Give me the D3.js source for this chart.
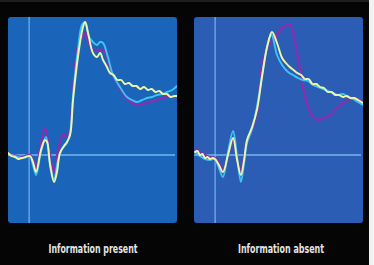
<!DOCTYPE html>
<html><head><meta charset="utf-8">
<script src="https://cdn.jsdelivr.net/npm/d3@7"></script>
<style>html,body{margin:0;padding:0;background:#050505;}svg{display:block;}</style>
</head><body>
<svg id="c" width="374" height="265"></svg>
<script>
// time in ms, amplitude in arbitrary units (0 = baseline)
const panelTitles = ["Information present", "Information absent"];
const seriesNames = ["purple", "cyan", "yellow"];

const presentPurple = [[-100,0.2],[-70,0.0],[-34,-0.2],[4,0.0],[18,-0.5],[33,-1.2],[56,1.2],[75,2.7],[99,0.0],[118,-1.8],[137,0.5],[160,2.0],[179,1.8],[194,2.5],[208,6.5],[231,10.8],[255,12.0],[265,12.2],[284,11.0],[302,10.5],[321,10.5],[345,10.5],[359,10.3],[383,8.8],[416,7.2],[440,6.3],[463,5.7],[487,5.2],[511,5.0],[535,5.1],[558,5.2],[582,5.4],[605,5.5],[630,5.7],[653,5.8],[677,5.8],[700,5.8]];
const presentCyan = [[-100,0.1],[-67,-0.1],[-34,-0.3],[4,-0.1],[18,-1.0],[33,-2.0],[56,0.3],[80,1.8],[99,-0.8],[118,-2.5],[137,-0.5],[156,0.6],[179,1.2],[194,2.2],[208,6.0],[231,10.5],[250,13.0],[265,13.3],[284,11.8],[302,11.3],[321,11.0],[336,11.3],[350,11.2],[373,9.8],[397,8.0],[430,6.8],[463,5.8],[487,5.5],[511,5.3],[535,5.5],[558,5.7],[582,5.8],[605,6.0],[630,6.1],[653,6.3],[677,6.5],[700,6.9]];
const presentYellow = [[-100,0.2],[-84,-0.1],[-67,-0.2],[-50,-0.4],[-34,-0.3],[-15,-0.2],[4,-0.1],[18,-0.7],[33,-1.7],[56,0.5],[75,1.5],[85,1.3],[99,-1.0],[118,-2.7],[132,-1.7],[146,0.2],[165,0.9],[179,1.3],[194,2.0],[208,5.5],[231,9.8],[255,12.8],[265,13.3],[279,12.2],[302,10.2],[321,9.8],[336,10.2],[350,9.5],[366,8.9],[383,8.2],[400,8.0],[418,7.5],[436,7.5],[454,7.1],[472,7.2],[490,6.9],[508,6.9],[526,6.6],[544,6.8],[562,6.5],[580,6.6],[598,6.3],[616,6.4],[634,6.1],[652,6.1],[670,5.8],[688,5.9],[700,5.9]];

const absentPurple = [[-95,0.6],[-72,0.3],[-48,0.0],[-24,-0.2],[-1,-0.3],[18,-0.8],[37,-1.5],[61,0.0],[85,1.5],[104,-0.3],[122,-1.6],[137,-0.3],[151,1.3],[175,2.5],[198,4.2],[227,9.5],[260,11.2],[290,11.9],[321,12.8],[354,13.0],[388,10.2],[416,6.8],[440,4.8],[463,3.8],[487,3.5],[512,3.7],[544,4.0],[582,4.8],[629,5.5],[660,5.7],[690,5.4],[700,5.3]];
const absentCyan = [[-95,0.3],[-72,-0.1],[-48,-0.4],[-24,-0.5],[-1,-0.4],[18,-1.3],[37,-2.2],[61,0.3],[85,2.4],[104,-0.2],[122,-2.7],[137,-0.8],[151,1.2],[175,2.6],[198,4.8],[222,8.0],[246,10.8],[267,12.0],[293,10.0],[317,9.0],[345,8.3],[369,8.0],[392,7.7],[416,7.5],[440,7.4],[463,7.0],[487,6.8],[511,6.6],[534,6.4],[558,6.2],[582,6.0],[605,6.1],[629,5.8],[653,5.6],[676,5.3],[700,5.0]];
const absentYellow = [[-95,0.3],[-84,0.4],[-72,0.0],[-60,0.1],[-48,-0.3],[-36,-0.2],[-24,-0.4],[-12,-0.3],[-1,-0.4],[18,-1.0],[37,-1.7],[61,0.0],[85,1.7],[104,-0.5],[122,-2.0],[137,-0.5],[151,1.5],[175,2.8],[198,4.5],[222,7.8],[246,10.8],[269,12.3],[293,11.2],[317,9.7],[335,9.2],[353,8.8],[371,8.5],[389,8.2],[407,8.0],[425,7.6],[443,7.6],[461,7.1],[479,7.1],[497,6.8],[515,6.7],[533,6.3],[551,6.3],[569,6.0],[587,6.0],[605,5.8],[623,5.9],[641,5.7],[659,5.7],[677,5.5],[700,5.2]];

const panels = [
  {title: panelTitles[0], x0: 8, x1: 177, fill: "#1a64ba", data: [presentPurple, presentCyan, presentYellow], tx: 93, tw: 89},
  {title: panelTitles[1], x0: 194, x1: 363, fill: "#2b5db4", data: [absentPurple, absentCyan, absentYellow], tx: 281, tw: 86}
];
const colors = {purple: "#8c2db0", cyan: "#3cc4f2", yellow: "#eef7a6"};
const widths = {purple: 2.3, cyan: 1.9, yellow: 1.9};

const svg = d3.select("#c");
svg.append("rect").attr("width", 374).attr("height", 265).attr("fill", "#050505");
svg.append("rect").attr("x", 0).attr("y", 0).attr("width", 374).attr("height", 2).attr("fill", "#1e1e1e");
svg.append("rect").attr("x", 369).attr("y", 0).attr("width", 5).attr("height", 265).attr("fill", "#f2f2f2");

const defs = svg.append("defs");
const f = defs.append("filter").attr("id", "soft").attr("x", "-5%").attr("y", "-5%").attr("width", "110%").attr("height", "110%");
f.append("feGaussianBlur").attr("stdDeviation", 0.45);

const yTop = 17, yBot = 223;
const y = d3.scaleLinear().domain([-6.8, 13.8]).range([yBot, yTop]);

panels.forEach((p, i) => {
  const x = d3.scaleLinear().domain([-100, 700]).range([p.x0, p.x1]);
  const g = svg.append("g");
  const clipId = "clip" + i;
  defs.append("clipPath").attr("id", clipId).append("rect")
    .attr("x", p.x0).attr("y", yTop).attr("width", p.x1 - p.x0).attr("height", yBot - yTop).attr("rx", 3);
  g.append("rect").attr("x", p.x0).attr("y", yTop).attr("width", p.x1 - p.x0).attr("height", yBot - yTop)
    .attr("rx", 3).attr("fill", p.fill);
  // axis lines
  g.append("line").attr("x1", x(0)).attr("x2", x(0)).attr("y1", yTop).attr("y2", yBot)
    .attr("stroke", "#74b6f2").attr("stroke-width", 1.3).attr("opacity", 0.9);
  g.append("line").attr("x1", p.x0).attr("x2", p.x1 - 2).attr("y1", y(0)).attr("y2", y(0))
    .attr("stroke", "#7cc0f4").attr("stroke-width", 1.6).attr("opacity", 0.9);
  const line = d3.line().x(d => x(d[0])).y(d => y(d[1])).curve(d3.curveCatmullRom.alpha(0.5));
  const lg = g.append("g").attr("clip-path", `url(#${clipId})`).attr("filter", "url(#soft)");
  p.data.forEach((ser, k) => {
    const name = seriesNames[k];
    lg.append("path").attr("d", line(ser)).attr("fill", "none")
      .attr("stroke", colors[name]).attr("stroke-width", widths[name])
      .attr("stroke-linejoin", "round").attr("stroke-linecap", "round");
  });
  svg.append("text").attr("x", p.tx).attr("y", 253).attr("text-anchor", "middle")
    .attr("font-family", "'DejaVu Sans Condensed','Liberation Sans Narrow',sans-serif")
    .attr("font-stretch", "condensed").attr("font-weight", "bold").attr("font-size", 12.5)
    .attr("fill", "#e4e4e4").attr("textLength", p.tw).attr("lengthAdjust", "spacingAndGlyphs")
    .text(p.title);
});
</script>
</body></html>
